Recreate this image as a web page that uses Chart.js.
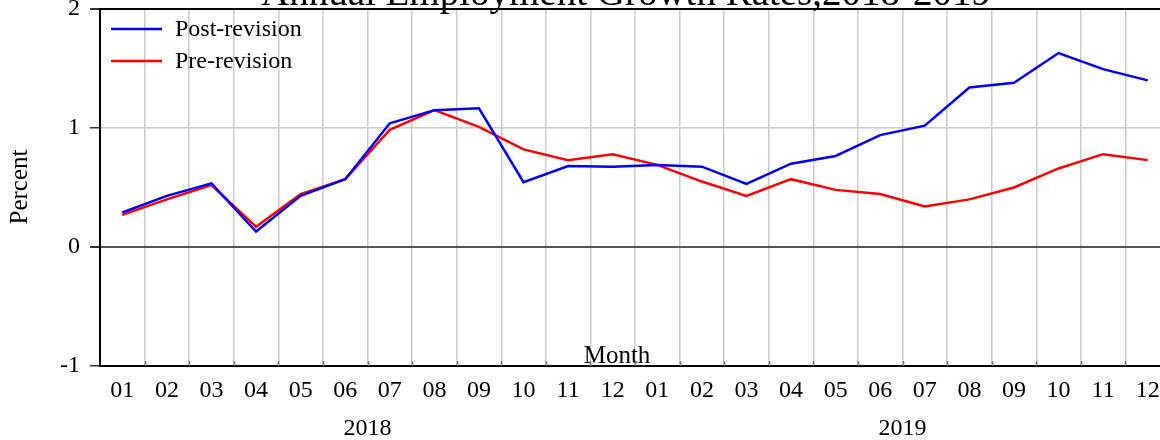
<!DOCTYPE html>
<html>
<head>
<meta charset="utf-8">
<script src="https://cdn.jsdelivr.net/npm/chart.js@4.4.0/dist/chart.umd.min.js"></script>
<style>
  html, body { margin: 0; padding: 0; background: #fff; overflow: hidden; }
  #wrap { width: 1180px; height: 440px; }
</style>
</head>
<body>
<div id="wrap"><canvas id="myChart"></canvas></div>
<script>
// month labels, two years
var months = ["01","02","03","04","05","06","07","08","09","10","11","12",
              "01","02","03","04","05","06","07","08","09","10","11","12"];
var years = ["2018", "2019"];

var postRevision = [0.29, 0.43, 0.535, 0.13, 0.43, 0.57, 1.04, 1.15, 1.165, 0.545, 0.68, 0.675,
                    0.69, 0.675, 0.53, 0.70, 0.765, 0.94, 1.02, 1.34, 1.38, 1.63, 1.495, 1.40];
var preRevision  = [0.27, 0.40, 0.52, 0.17, 0.445, 0.57, 0.985, 1.15, 1.01, 0.82, 0.73, 0.78,
                    0.69, 0.55, 0.43, 0.57, 0.48, 0.445, 0.34, 0.40, 0.50, 0.66, 0.78, 0.73];

var serif = "'Liberation Serif', 'Times New Roman', serif";
Chart.defaults.font.family = serif;
Chart.defaults.color = '#000';

// title, legend, axis names drawn at fixed spots like the original
var extras = {
    id: 'extras',
    afterDraw: function(chart) {
        var c = chart.ctx;
        var area = chart.chartArea;
        c.save();
        c.fillStyle = '#000';

        c.font = '39px ' + serif;
        c.textAlign = 'center';
        c.textBaseline = 'alphabetic';
        c.fillText('Annual Employment Growth Rates,2018-2019', 626, 5);

        // legend inside the plot
        c.font = '24px ' + serif;
        c.textAlign = 'left';
        chart.data.datasets.forEach(function(ds, i) {
            var y = 29 + i * 32;
            c.strokeStyle = ds.borderColor;
            c.lineWidth = 2.5;
            c.beginPath();
            c.moveTo(111, y);
            c.lineTo(162, y);
            c.stroke();
            c.fillText(ds.label, 175, y + 7);
        });

        // Month sits just above the axis line
        c.font = '25px ' + serif;
        c.textAlign = 'center';
        c.fillText('Month', 617, 363);

        // Percent on the left
        c.translate(20, 187);
        c.rotate(-Math.PI / 2);
        c.textBaseline = 'middle';
        c.fillText('Percent', 0, 0);
        c.restore();

        // small inward ticks on the x axis
        var xs = chart.scales.x;
        c.save();
        c.strokeStyle = '#777';
        c.lineWidth = 1.5;
        for (var k = 1; k < months.length; k++) {
            var px = Math.round((xs.getPixelForTick(k - 1) + xs.getPixelForTick(k)) / 2) + 0.5;
            c.beginPath();
            c.moveTo(px, area.bottom);
            c.lineTo(px, area.bottom - 5);
            c.stroke();
        }
        c.restore();
    }
};

var ctx = document.getElementById('myChart').getContext('2d');
var chart = new Chart(ctx, {
    type: 'line',
    data: {
        labels: months,
        datasets: [{
            label: 'Post-revision',
            data: postRevision,
            borderColor: '#0000ff',
            backgroundColor: '#0000ff',
            borderWidth: 2.5,
            pointRadius: 0,
            tension: 0
        }, {
            label: 'Pre-revision',
            data: preRevision,
            borderColor: '#ff0000',
            backgroundColor: '#ff0000',
            borderWidth: 2.5,
            pointRadius: 0,
            tension: 0
        }]
    },
    options: {
        responsive: true,
        maintainAspectRatio: false,
        animation: false,
        layout: { padding: { left: 0, top: 9, right: 10, bottom: 0 } },
        plugins: {
            legend: { display: false },
            title: { display: false },
            tooltip: { enabled: false }
        },
        scales: {
            x: {
                type: 'category',
                offset: true,
                grid: { offset: true, color: '#cccccc', lineWidth: 1.5, drawTicks: false },
                border: { color: '#000', width: 2 },
                ticks: { font: { size: 24 }, padding: 10, maxRotation: 0, autoSkip: false },
                afterFit: function(s) { s.height = 36; s.paddingLeft = 0; s.paddingRight = 0; }
            },
            x2: {
                type: 'category',
                labels: years,
                position: 'bottom',
                offset: true,
                grid: { display: false, drawTicks: false },
                border: { display: false },
                ticks: { font: { size: 24 }, padding: 12, maxRotation: 0 },
                afterFit: function(s) { s.height = 38; s.paddingLeft = 0; s.paddingRight = 0; }
            },
            y: {
                min: -1,
                max: 2,
                ticks: { stepSize: 1, font: { size: 24 }, padding: 10 },
                grid: {
                    tickLength: 10,
                    tickColor: '#333',
                    color: function(c) {
                        if (c.tick.value === 0) return '#555';
                        if (c.tick.value === 2) return '#000';
                        return '#cccccc';
                    },
                    lineWidth: function(c) {
                        return (c.tick.value === 0 || c.tick.value === 2) ? 2 : 1.5;
                    }
                },
                border: { color: '#000', width: 2 },
                afterFit: function(s) { s.width = 100; s.paddingTop = 0; s.paddingBottom = 0; }
            }
        }
    },
    plugins: [extras]
});
</script>
</body>
</html>
